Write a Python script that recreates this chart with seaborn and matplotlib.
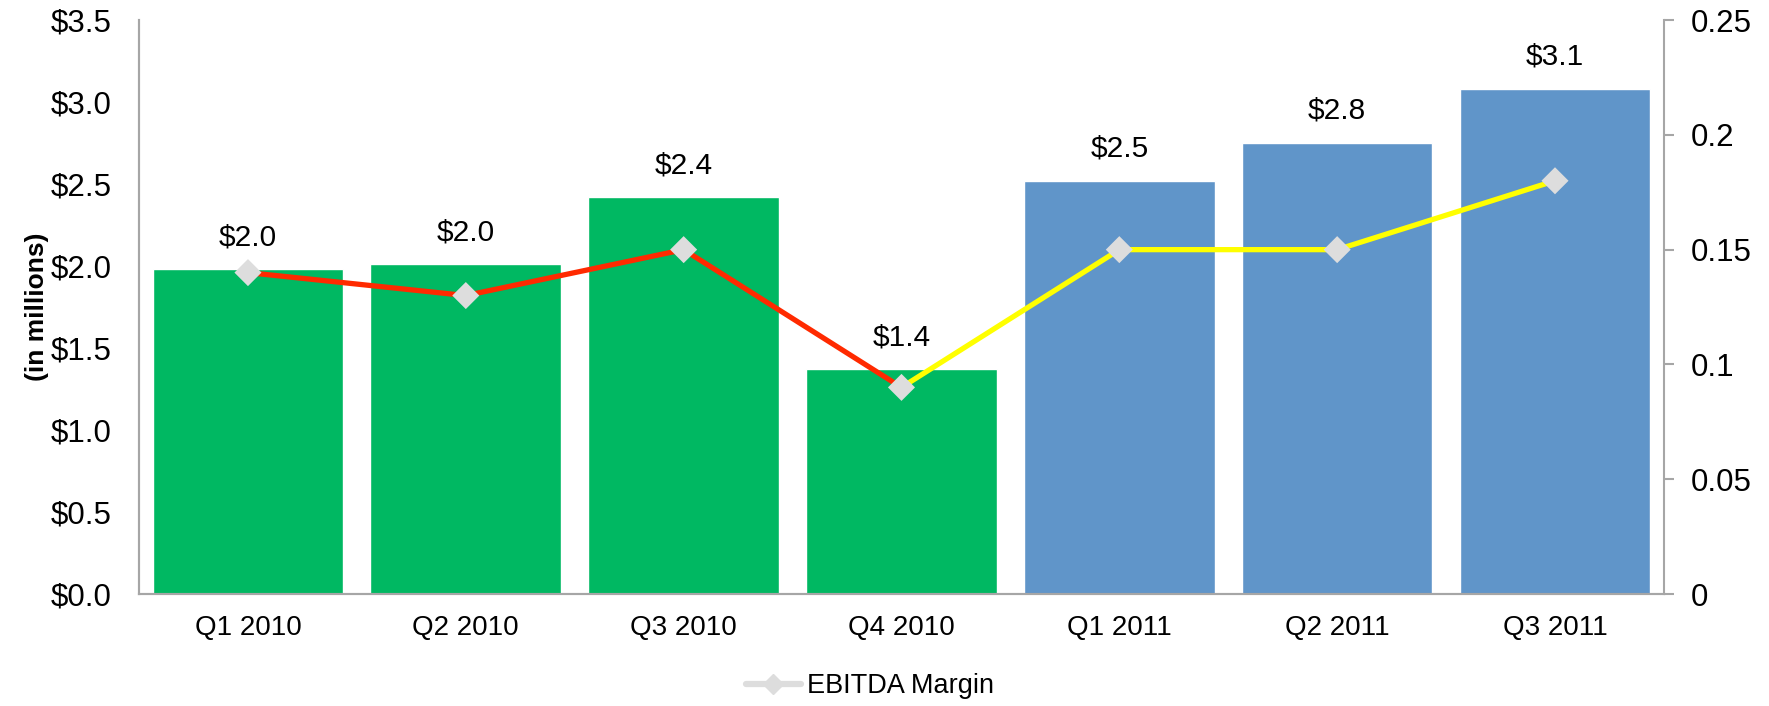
import pandas as pd
import matplotlib.pyplot as plt
import matplotlib.ticker as mticker
from matplotlib.lines import Line2D
import seaborn as sns

# data
quarters = ['Q1 2010', 'Q2 2010', 'Q3 2010', 'Q4 2010', 'Q1 2011', 'Q2 2011', 'Q3 2011']
revenue = [1.98, 2.01, 2.42, 1.37, 2.52, 2.75, 3.08]
revenue_labels = ['$2.0', '$2.0', '$2.4', '$1.4', '$2.5', '$2.8', '$3.1']
margin = [0.14, 0.13, 0.15, 0.09, 0.15, 0.15, 0.18]
year = ['2010', '2010', '2010', '2010', '2011', '2011', '2011']

sns.set_style('white')
plt.rcParams['font.family'] = ['Liberation Sans', 'DejaVu Sans']
plt.rcParams['text.color'] = 'black'
plt.rcParams['axes.labelcolor'] = 'black'
plt.rcParams['xtick.color'] = 'black'
plt.rcParams['ytick.color'] = 'black'

df = pd.DataFrame({'quarter': quarters, 'revenue': revenue, 'margin': margin, 'year': year})
df['pos'] = range(len(df))

fig = plt.figure(figsize=(17.69, 7.06), dpi=100)
ax = fig.add_axes([0.0786, 0.1586, 0.862, 0.813])

sns.barplot(x='quarter', y='revenue', hue='year', data=df, ax=ax, dodge=False,
            palette={'2010': '#00B862', '2011': '#6095C9'}, width=0.875,
            saturation=1, legend=False)
# value labels above the bars, matched by bar position
for cont in ax.containers:
    labels = []
    for bar in cont:
        idx = int(round(bar.get_x() + bar.get_width() / 2))
        labels.append(revenue_labels[idx] if bar.get_height() > 0 else '')
    ax.bar_label(cont, labels=labels, padding=13, fontsize=21.5, color='black')

ax.set_ylim(0, 3.5)
ax.set_xlim(-0.5, 6.5)
ax.yaxis.set_major_locator(mticker.MultipleLocator(0.5))
ax.yaxis.set_major_formatter(mticker.FuncFormatter(lambda v, p: '${:.1f}'.format(v)))
ax.set_xlabel('')
ax.set_ylabel('(in millions)', fontsize=19, fontweight='bold')
ax.yaxis.set_label_coords(-0.059, 0.5)
ax.tick_params(axis='y', labelsize=22.5, length=0, pad=20, labelcolor='black')
ax.tick_params(axis='x', labelsize=20, length=0, pad=15, labelcolor='black')

ax2 = ax.twinx()
seg_2010 = df.iloc[0:4]
seg_2011 = df.iloc[3:7]
sns.lineplot(x='pos', y='margin', data=seg_2010, ax=ax2, color='#FF2A00', linewidth=3.8)
sns.lineplot(x='pos', y='margin', data=seg_2011, ax=ax2, color='#FFFF00', linewidth=3.8)
sns.scatterplot(x='pos', y='margin', data=df, ax=ax2, marker='D', s=190,
                color='#DDDDDD', edgecolor='none', zorder=5)
ax2.set_ylim(0, 0.25)
ax2.set_xlim(-0.5, 6.5)
ax2.yaxis.set_major_locator(mticker.MultipleLocator(0.05))
ax2.yaxis.set_major_formatter(mticker.FuncFormatter(lambda v, p: '{:g}'.format(round(v, 2))))
ax2.set_ylabel('')
ax2.set_xlabel('')
ax2.tick_params(axis='y', labelsize=22.5, length=7, width=1.5, color='#A6A6A6',
                labelcolor='black', pad=12, direction='out')

for a in (ax, ax2):
    for s in a.spines.values():
        s.set_color('#A6A6A6')
        s.set_linewidth(1.5)
    a.spines['top'].set_visible(False)
ax.spines['right'].set_visible(False)

handle = Line2D([], [], color='#DDDDDD', linewidth=4.5, marker='D', markersize=10)
fig.legend([handle], ['EBITDA Margin'], loc='center', bbox_to_anchor=(0.492, 0.028),
           frameon=False, fontsize=19.5, handlelength=2.0, handletextpad=0.25)

fig.savefig('out.png', dpi=100)
